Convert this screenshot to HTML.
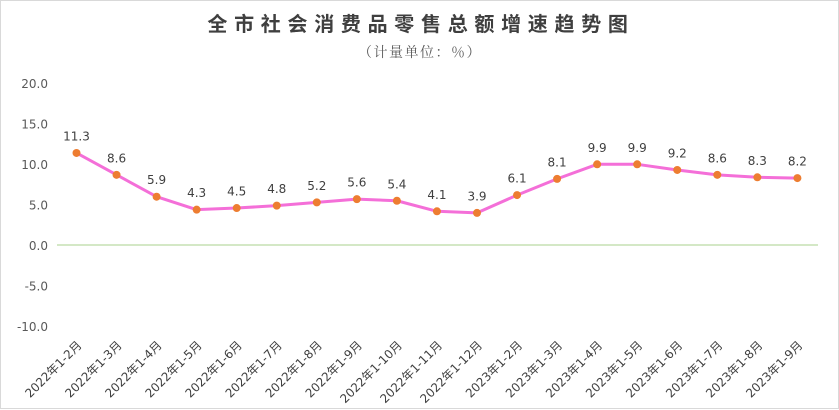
<!DOCTYPE html>
<html><head><meta charset="utf-8"><style>
html,body{margin:0;padding:0;background:#fff;}
svg{display:block;}
</style></head><body>
<svg width="839" height="410" viewBox="0 0 839 410" xmlns="http://www.w3.org/2000/svg">
<rect x="0" y="0" width="839" height="410" fill="#fff"/>
<rect x="0.5" y="0.5" width="838" height="408" fill="none" stroke="#d9d9d9" stroke-width="1"/>
<text x="421" y="31" text-anchor="middle" font-family="'Noto Sans CJK SC',sans-serif" font-weight="bold" font-size="20" letter-spacing="6.7" fill="#3f3f3f">全市社会消费品零售总额增速趋势图</text>
<text x="420" y="57" text-anchor="middle" font-family="'Noto Serif CJK SC','Noto Sans CJK SC',serif" font-size="14" letter-spacing="1.5" fill="#595959">（计量单位：％）</text>
<g font-family="'DejaVu Sans','Noto Sans CJK SC',sans-serif" font-size="12" fill="#595959" text-anchor="end">
<text x="48" y="88">20.0</text>
<text x="48" y="128.5">15.0</text>
<text x="48" y="169">10.0</text>
<text x="48" y="209.5">5.0</text>
<text x="48" y="250">0.0</text>
<text x="48" y="290.5">-5.0</text>
<text x="48" y="331">-10.0</text>
</g>
<line x1="57" y1="245" x2="818" y2="245" stroke="#a9d18e" stroke-width="1"/>
<polyline fill="none" stroke="#f46fd8" stroke-width="3" stroke-linejoin="round" points="76.5,152.97 116.55,174.84 156.6,196.71 196.65,209.67 236.7,208.05 276.75,205.62 316.8,202.38 356.85,199.14 396.9,200.76 436.95,211.29 477,212.91 517.05,195.09 557.1,178.89 597.15,164.31 637.2,164.31 677.25,169.98 717.3,174.84 757.35,177.27 797.4,178.08"/>
<g fill="#ed7d31">
<circle cx="76.5" cy="152.97" r="4"/><circle cx="116.55" cy="174.84" r="4"/><circle cx="156.6" cy="196.71" r="4"/><circle cx="196.65" cy="209.67" r="4"/><circle cx="236.7" cy="208.05" r="4"/><circle cx="276.75" cy="205.62" r="4"/><circle cx="316.8" cy="202.38" r="4"/><circle cx="356.85" cy="199.14" r="4"/><circle cx="396.9" cy="200.76" r="4"/><circle cx="436.95" cy="211.29" r="4"/><circle cx="477" cy="212.91" r="4"/><circle cx="517.05" cy="195.09" r="4"/><circle cx="557.1" cy="178.89" r="4"/><circle cx="597.15" cy="164.31" r="4"/><circle cx="637.2" cy="164.31" r="4"/><circle cx="677.25" cy="169.98" r="4"/><circle cx="717.3" cy="174.84" r="4"/><circle cx="757.35" cy="177.27" r="4"/><circle cx="797.4" cy="178.08" r="4"/>
</g>
<g font-family="'DejaVu Sans',sans-serif" font-size="12" fill="#404040" text-anchor="middle">
<text x="76.5" y="140.5">11.3</text>
<text x="116.55" y="162.3">8.6</text>
<text x="156.6" y="184.2">5.9</text>
<text x="196.65" y="197.2">4.3</text>
<text x="236.7" y="195.5">4.5</text>
<text x="276.75" y="193.1">4.8</text>
<text x="316.8" y="189.9">5.2</text>
<text x="356.85" y="186.6">5.6</text>
<text x="396.9" y="188.3">5.4</text>
<text x="436.95" y="198.8">4.1</text>
<text x="477" y="200.4">3.9</text>
<text x="517.05" y="182.6">6.1</text>
<text x="557.1" y="166.4">8.1</text>
<text x="597.15" y="151.8">9.9</text>
<text x="637.2" y="151.8">9.9</text>
<text x="677.25" y="157.5">9.2</text>
<text x="717.3" y="162.3">8.6</text>
<text x="757.35" y="164.8">8.3</text>
<text x="797.4" y="165.6">8.2</text>
</g>
<g font-family="'DejaVu Sans','Noto Sans CJK SC',sans-serif" font-size="12" fill="#404040" text-anchor="end">
<text transform="translate(82.5,346) rotate(-45)">2022年1-2月</text>
<text transform="translate(122.55,346) rotate(-45)">2022年1-3月</text>
<text transform="translate(162.6,346) rotate(-45)">2022年1-4月</text>
<text transform="translate(202.65,346) rotate(-45)">2022年1-5月</text>
<text transform="translate(242.7,346) rotate(-45)">2022年1-6月</text>
<text transform="translate(282.75,346) rotate(-45)">2022年1-7月</text>
<text transform="translate(322.8,346) rotate(-45)">2022年1-8月</text>
<text transform="translate(362.85,346) rotate(-45)">2022年1-9月</text>
<text transform="translate(402.9,346) rotate(-45)">2022年1-10月</text>
<text transform="translate(442.95,346) rotate(-45)">2022年1-11月</text>
<text transform="translate(483,346) rotate(-45)">2022年1-12月</text>
<text transform="translate(523.05,346) rotate(-45)">2023年1-2月</text>
<text transform="translate(563.1,346) rotate(-45)">2023年1-3月</text>
<text transform="translate(603.15,346) rotate(-45)">2023年1-4月</text>
<text transform="translate(643.2,346) rotate(-45)">2023年1-5月</text>
<text transform="translate(683.25,346) rotate(-45)">2023年1-6月</text>
<text transform="translate(723.3,346) rotate(-45)">2023年1-7月</text>
<text transform="translate(763.35,346) rotate(-45)">2023年1-8月</text>
<text transform="translate(803.4,346) rotate(-45)">2023年1-9月</text>
</g>
</svg>
</body></html>
